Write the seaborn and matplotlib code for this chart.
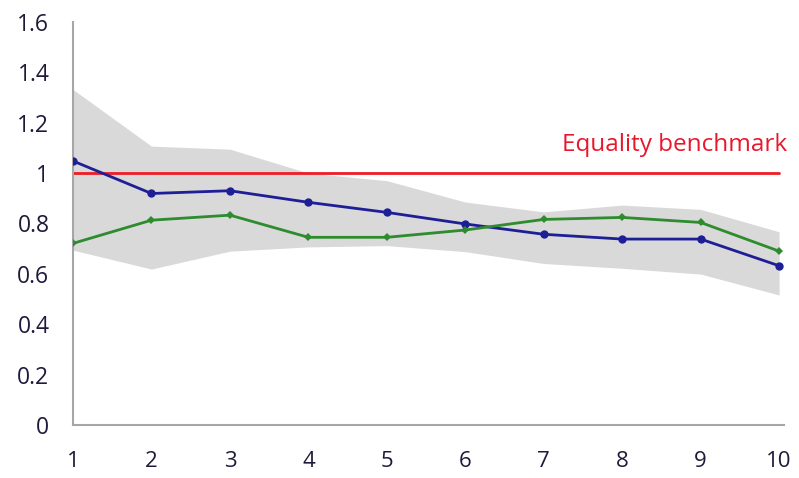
import matplotlib
matplotlib.use("Agg")
import matplotlib.pyplot as plt
import seaborn as sns
import pandas as pd

deciles = [1, 2, 3, 4, 5, 6, 7, 8, 9, 10]
blue_series = [1.048, 0.919, 0.93, 0.884, 0.844, 0.798, 0.757, 0.738, 0.738, 0.632]
green_series = [0.721, 0.813, 0.833, 0.745, 0.745, 0.774, 0.816, 0.824, 0.804, 0.69]
band_upper = [1.332, 1.107, 1.095, 1.0, 0.97, 0.885, 0.846, 0.873, 0.856, 0.767]
band_lower = [0.694, 0.619, 0.69, 0.707, 0.712, 0.688, 0.641, 0.622, 0.599, 0.516]
benchmark = 1.0
y_ticks = [0, 0.2, 0.4, 0.6, 0.8, 1, 1.2, 1.4, 1.6]
y_tick_labels = ["0", "0.2", "0.4", "0.6", "0.8", "1", "1.2", "1.4", "1.6"]

sns.set_theme(style="white")
plt.rcParams["font.family"] = ["Open Sans", "DejaVu Sans"]

df = pd.DataFrame({"decile": deciles, "blue": blue_series, "green": green_series})

fig = plt.figure(figsize=(7.99, 4.78), dpi=100)
ax = fig.add_axes([0.0914, 0.111, 0.981 - 0.0914, 0.954 - 0.111])

ax.fill_between(deciles, band_lower, band_upper, color="#d9d9d9", linewidth=0, zorder=1)
ax.plot([deciles[0], deciles[-1]], [benchmark, benchmark], color="#ee1c25", linewidth=2, zorder=2)

sns.lineplot(data=df, x="decile", y="blue", ax=ax, color="#1e1e96", linewidth=2,
             marker="o", markersize=6, markeredgewidth=0, zorder=3)
sns.lineplot(data=df, x="decile", y="green", ax=ax, color="#2e8b2e", linewidth=2,
             marker="D", markersize=4, markeredgewidth=0, zorder=4)

ax.text(10.1, 1.11, "Equality benchmark", color="#e8182c", fontsize=17.5,
        ha="right", va="center")

ax.set_xlim(1, 10.06)
ax.set_ylim(0, 1.6)
ax.set_xticks(deciles)
ax.set_xticklabels([str(d) for d in deciles])
ax.set_yticks(y_ticks)
ax.set_yticklabels(y_tick_labels)
ax.set_xlabel("")
ax.set_ylabel("")

for side in ["top", "right"]:
    ax.spines[side].set_visible(False)
for side in ["left", "bottom"]:
    ax.spines[side].set_color("#a6a6a6")
    ax.spines[side].set_linewidth(1.5)

ax.tick_params(axis="x", direction="in", length=7, width=1.2, color="#a6a6a6",
               pad=19, labelsize=16, labelcolor="#201a3a")
ax.tick_params(axis="y", length=0, pad=17, labelsize=16.5, labelcolor="#201a3a")

fig.savefig("out.png", dpi=100)
